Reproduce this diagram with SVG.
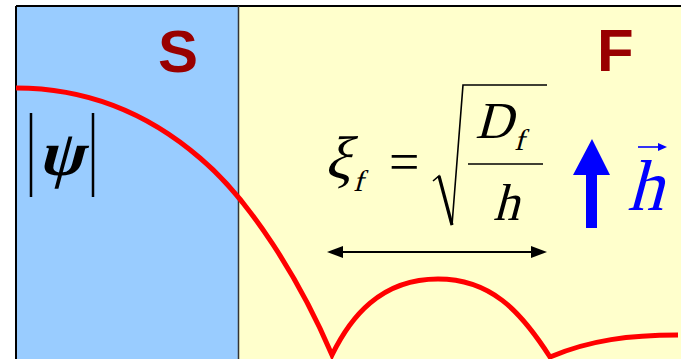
<svg xmlns="http://www.w3.org/2000/svg" width="681" height="359" viewBox="0 0 681 359">
<style>
.lbl{font-family:"Liberation Sans",Arial,sans-serif;font-weight:bold;fill:#990000;font-size:60px}
.m{font-family:"Liberation Serif","Times New Roman",serif;font-style:normal;fill:#000}
.up{font-family:"Liberation Serif","Times New Roman",serif;fill:#000}
</style>
<rect x="0" y="0" width="681" height="359" fill="#fff"/>
<g id="S-region">
<rect x="16" y="6" width="222" height="360" fill="#99CCFF"/>
<text class="lbl" x="158" y="72">S</text>
</g>
<g id="F-region">
<rect x="238" y="6" width="450" height="360" fill="#FFFFCC"/>
<text class="lbl" x="597" y="71">F</text>
</g>
<g id="borders" stroke="#000" fill="none">
<line x1="16" y1="6" x2="681" y2="6" stroke-width="2"/>
<line x1="16" y1="6" x2="16" y2="359" stroke-width="2"/>
<line x1="238.5" y1="6" x2="238.5" y2="359" stroke-width="1.5" stroke="#333"/>
</g>
<g id="psi-label">
<line x1="31" y1="113" x2="31" y2="197" stroke="#000" stroke-width="2.5"/>
<line x1="93" y1="113" x2="93" y2="197" stroke="#000" stroke-width="2.5"/>
<text class="m" transform="translate(38,175) skewX(-15)" font-weight="bold" font-size="64">ψ</text>
</g>
<g id="curve">
<path d="M16,88 C90,88 150,115 200,158 C250,200 300,280 332,355 C350,318 380,279 438,279 C490,279 520,310 550,357 C590,340 630,335 678,335" fill="none" stroke="#FF0000" stroke-width="5" stroke-linejoin="miter"/>
</g>
<g id="formula">
<text class="m" transform="translate(324,178) skewX(-15)" font-size="60">ξ</text>
<text class="m" transform="translate(353,191) skewX(-15)" font-size="30">f</text>
<text class="up" x="389" y="180" font-size="54">=</text>
<path d="M433,181 L439,176 L452,225 L463,85 L547,85" fill="none" stroke="#000" stroke-width="1.6" stroke-linejoin="miter"/>
<path d="M439,176 L452,225" stroke="#000" stroke-width="3.2" fill="none"/>
<line x1="468" y1="164" x2="543" y2="164" stroke="#000" stroke-width="1.6"/>
<text class="m" transform="translate(475,138) skewX(-15)" font-size="52">D</text>
<text class="m" transform="translate(514,150) skewX(-15)" font-size="30">f</text>
<text class="m" transform="translate(493,220) skewX(-15)" font-size="52">h</text>
</g>
<g id="field">
<path d="M586,228 L586,175 L573,175 L592,139 L610,175 L597,175 L597,228 z" fill="#0000FF"/>
<text class="m" transform="translate(627,210) skewX(-15)" font-size="72" style="fill:#0000FF">h</text>
<line x1="638" y1="147" x2="662" y2="147" stroke="#0000FF" stroke-width="1.6"/>
<path d="M667,147 L658,143 L658,151 z" fill="#0000FF"/>
</g>
<g id="connectors">
<line x1="331" y1="252" x2="543" y2="252" stroke="#000" stroke-width="2"/>
<path d="M327,252 L343,246 L343,258 z" fill="#000"/>
<path d="M547,252 L531,246 L531,258 z" fill="#000"/>
</g>
</svg>
